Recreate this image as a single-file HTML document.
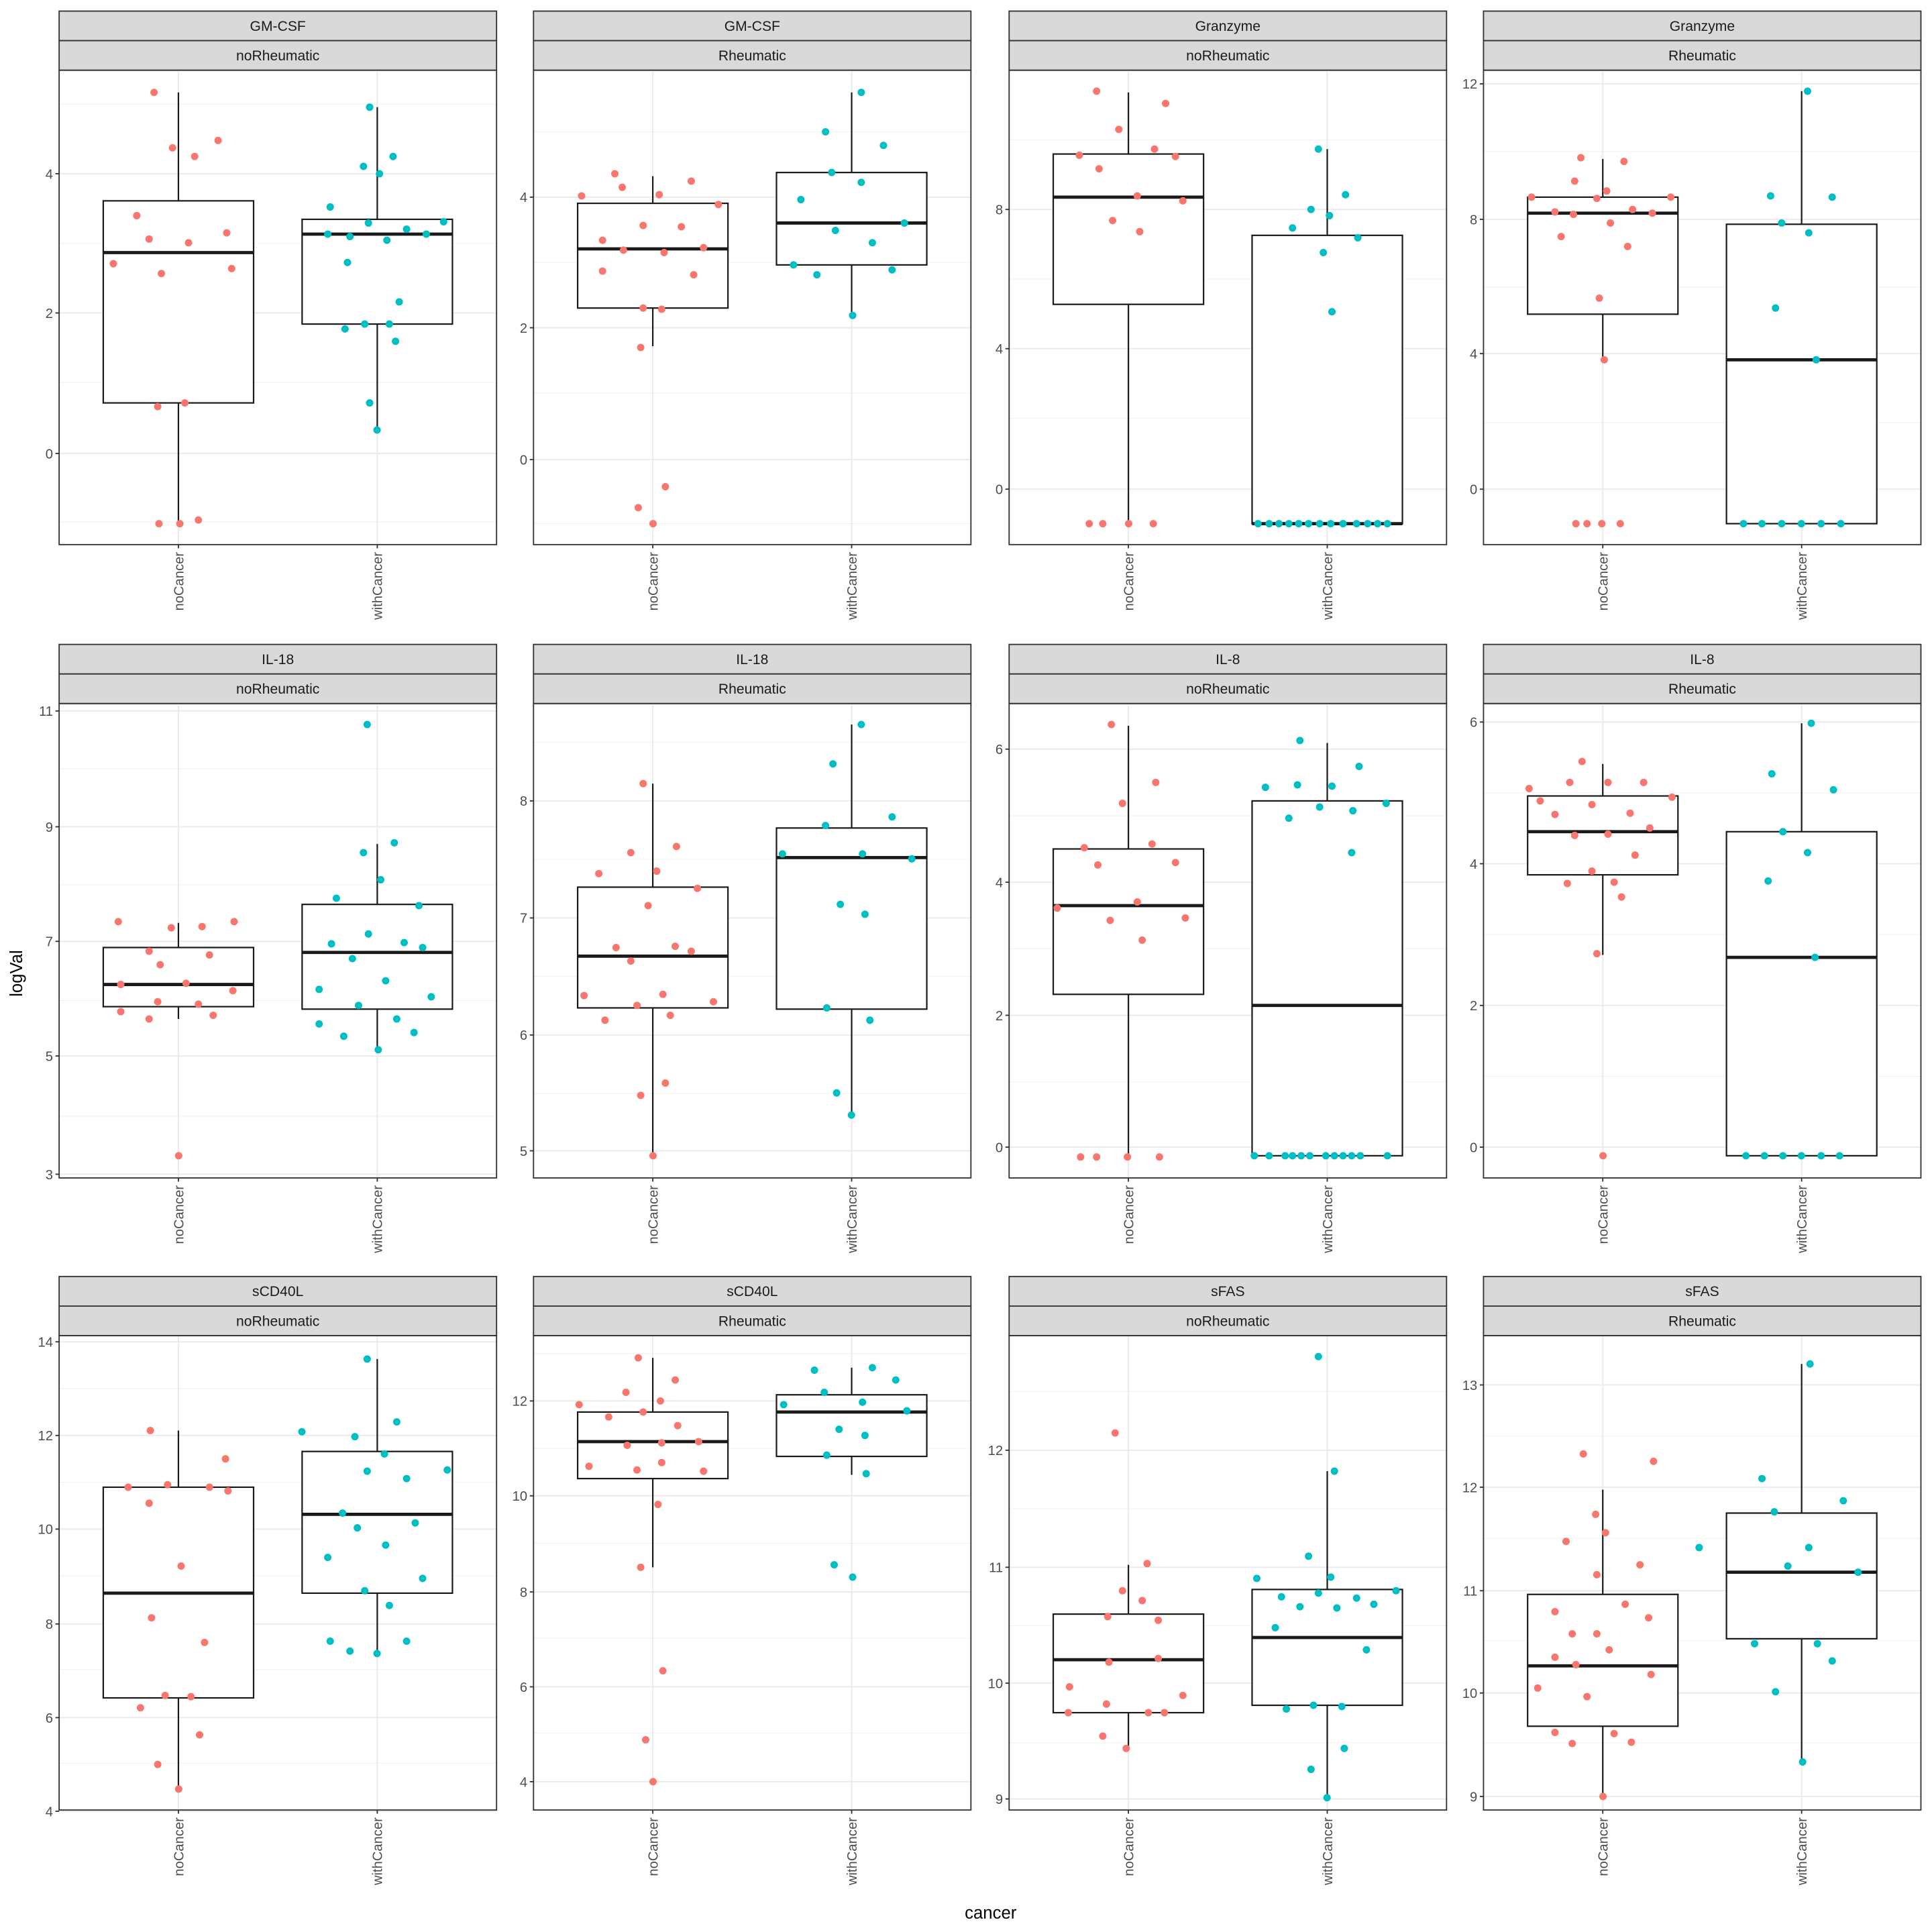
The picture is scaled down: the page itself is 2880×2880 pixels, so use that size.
<!DOCTYPE html>
<html><head><meta charset="utf-8"><style>
html,body{margin:0;padding:0;background:#fff}
svg{display:block}
text{font-family:"Liberation Sans",Arial,sans-serif}
</style></head><body>
<svg id="s" width="2880" height="2880" viewBox="0 0 1568 1568" xmlns="http://www.w3.org/2000/svg">
<rect width="1568" height="1568" fill="#fff"/>
<text x="18" y="790" font-size="14" text-anchor="middle" transform="rotate(-90 18 790)">logVal</text>
<text x="804" y="1557" font-size="14" text-anchor="middle">cancer</text>
</svg>
<script>
var X0=[48,433,819,1204],W=355,TOP=[57,571,1084],BOT=[442,956,1469];
var P=[
{c:0,r:0,t1:"GM-CSF",t2:"noRheumatic",ticks:[[4,141],[2,254],[0,368]],
b:[[205,163,327,75,425],[190,178,263,87,349]],
pn:[[125,75],[140,120],[158,127],[177,114],[111,175],[121,194],[153,197],[184,189],[92,214],[131,222],[188,218],[128,330],[150,327],[129,425],[146,425],[161,422]],
pw:[[300,87],[295,135],[319,127],[308,141],[268,168],[266,190],[284,192],[299,181],[314,195],[330,186],[346,190],[360,180],[282,213],[324,245],[296,263],[316,263],[280,267],[321,277],[300,327],[306,349]]},
{c:1,r:0,t1:"GM-CSF",t2:"Rheumatic",ticks:[[4,160],[2,266],[0,373]],
b:[[202,165,250,143,281],[181,140,215,75,256]],
pn:[[472,159],[499,141],[505,152],[535,158],[561,147],[583,166],[489,195],[522,183],[553,184],[506,203],[489,220],[539,205],[571,201],[563,223],[522,250],[537,251],[520,282],[540,395],[518,412],[530,425]],
pw:[[699,75],[670,107],[717,118],[675,140],[650,162],[699,148],[678,187],[708,197],[734,181],[644,215],[663,223],[724,219],[692,256]]},
{c:2,r:0,t1:"Granzyme",t2:"noRheumatic",ticks:[[8,170],[4,283],[0,397]],
b:[[160,125,247,75,425],[425,191,425,121,425]],
pn:[[890,74],[946,84],[908,105],[876,126],[937,121],[892,137],[954,127],[923,159],[960,163],[903,179],[925,188],[884,425],[895,425],[916,425],[936,425]],
pw:[[1070,121],[1092,158],[1064,170],[1049,185],[1079,175],[1102,193],[1074,205],[1081,253],[1021,425],[1030,425],[1038,425],[1046,425],[1054,425],[1062,425],[1071,425],[1080,425],[1090,425],[1101,425],[1110,425],[1118,425],[1126,425]]},
{c:3,r:0,t1:"Granzyme",t2:"Rheumatic",ticks:[[12,68],[8,178],[4,287],[0,397]],
b:[[173,160,255,129,292],[292,182,425,74,425]],
pn:[[1283,128],[1304,155],[1318,131],[1278,147],[1243,160],[1262,172],[1277,174],[1296,161],[1325,170],[1341,173],[1356,160],[1307,181],[1267,192],[1321,200],[1298,242],[1302,292],[1279,425],[1288,425],[1300,425],[1315,425]],
pw:[[1467,74],[1437,159],[1487,160],[1446,181],[1468,189],[1441,250],[1474,292],[1415,425],[1430,425],[1446,425],[1462,425],[1478,425],[1494,425]]},
{c:0,r:1,t1:"IL-18",t2:"noRheumatic",ticks:[[11,577],[9,671],[7,764],[5,857],[3,953]],
b:[[799,769,817,749,827],[773,734,819,685,853]],
pn:[[96,748],[139,753],[164,752],[190,748],[121,772],[170,775],[130,783],[98,799],[151,798],[189,804],[128,813],[161,815],[98,821],[121,827],[173,824],[145,938]],
pw:[[298,588],[320,684],[295,692],[309,714],[273,729],[340,735],[269,766],[299,758],[328,765],[286,778],[343,769],[313,796],[259,803],[350,809],[291,816],[322,827],[259,831],[279,841],[336,838],[307,852]]},
{c:1,r:1,t1:"IL-18",t2:"Rheumatic",ticks:[[8,650],[7,745],[6,840],[5,934]],
b:[[776,720,818,636,938],[696,672,819,588,905]],
pn:[[522,636],[549,687],[512,692],[486,709],[533,707],[566,721],[526,735],[548,768],[561,772],[500,769],[512,780],[474,808],[538,807],[579,813],[517,816],[544,824],[491,828],[540,879],[520,889],[530,938]],
pw:[[699,588],[676,620],[724,663],[670,670],[635,693],[700,693],[740,697],[682,734],[702,742],[671,818],[706,828],[679,887],[691,905]]},
{c:2,r:1,t1:"IL-8",t2:"noRheumatic",ticks:[[6,608],[4,716],[2,824],[0,931]],
b:[[735,689,807,589,938],[816,650,938,603,938]],
pn:[[902,588],[938,635],[911,652],[880,688],[935,685],[891,702],[954,700],[858,737],[923,732],[901,747],[962,745],[927,763],[877,939],[890,939],[915,939],[941,939]],
pw:[[1055,601],[1103,622],[1027,639],[1053,637],[1081,638],[1046,664],[1071,655],[1098,658],[1125,652],[1097,692],[1018,938],[1030,938],[1043,938],[1049,938],[1056,938],[1063,938],[1076,938],[1083,938],[1090,938],[1097,938],[1104,938],[1126,938]]},
{c:3,r:1,t1:"IL-8",t2:"Rheumatic",ticks:[[6,586],[4,701],[2,816],[0,931]],
b:[[675,646,710,620,775],[777,675,938,587,938]],
pn:[[1284,618],[1241,640],[1274,635],[1305,635],[1334,635],[1357,647],[1250,650],[1262,661],[1292,653],[1323,660],[1278,678],[1305,677],[1339,672],[1292,707],[1272,717],[1327,694],[1310,716],[1316,728],[1296,774],[1301,938]],
pw:[[1470,587],[1438,628],[1488,641],[1447,675],[1467,692],[1435,715],[1473,777],[1417,938],[1432,938],[1447,938],[1462,938],[1478,938],[1493,938]]},
{c:0,r:2,t1:"sCD40L",t2:"noRheumatic",ticks:[[14,1089],[12,1165],[10,1241],[8,1318],[6,1394],[4,1470]],
b:[[1293,1207,1378,1161,1452],[1229,1178,1293,1103,1341]],
pn:[[122,1161],[183,1184],[104,1207],[136,1205],[170,1207],[185,1210],[121,1220],[147,1271],[123,1313],[166,1333],[134,1376],[155,1377],[114,1386],[162,1408],[128,1432],[145,1452]],
pw:[[298,1103],[245,1162],[288,1166],[322,1154],[312,1180],[298,1194],[330,1200],[363,1193],[278,1228],[290,1240],[337,1236],[313,1254],[266,1264],[343,1281],[296,1291],[316,1303],[268,1332],[284,1340],[330,1332],[306,1342]]},
{c:1,r:2,t1:"sCD40L",t2:"Rheumatic",ticks:[[12,1137],[10,1214],[8,1292],[6,1369],[4,1446]],
b:[[1170,1146,1200,1102,1272],[1146,1132,1182,1110,1197]],
pn:[[518,1102],[548,1120],[470,1140],[508,1130],[536,1137],[494,1150],[522,1146],[550,1157],[509,1173],[567,1170],[537,1171],[478,1190],[517,1193],[537,1187],[571,1194],[534,1221],[520,1272],[538,1356],[524,1412],[530,1446]],
pw:[[661,1112],[708,1110],[727,1120],[669,1130],[700,1138],[636,1140],[736,1145],[681,1160],[702,1165],[671,1181],[703,1196],[677,1270],[692,1280]]},
{c:2,r:2,t1:"sFAS",t2:"noRheumatic",ticks:[[12,1177],[11,1272],[10,1366],[9,1460]],
b:[[1347,1310,1390,1270,1419],[1329,1290,1384,1194,1459]],
pn:[[905,1163],[931,1269],[911,1291],[927,1299],[899,1312],[940,1315],[900,1349],[940,1346],[868,1369],[898,1383],[932,1390],[945,1390],[960,1376],[867,1390],[895,1409],[914,1419]],
pw:[[1070,1101],[1083,1194],[1062,1263],[1020,1281],[1080,1280],[1040,1296],[1070,1293],[1101,1297],[1133,1291],[1055,1304],[1085,1305],[1115,1302],[1035,1321],[1109,1339],[1044,1387],[1066,1384],[1089,1385],[1091,1419],[1064,1436],[1077,1459]]},
{c:3,r:2,t1:"sFAS",t2:"Rheumatic",ticks:[[13,1124],[12,1207],[11,1291],[10,1374],[9,1458]],
b:[[1352,1294,1401,1209,1458],[1276,1228,1330,1107,1430]],
pn:[[1285,1180],[1342,1186],[1295,1229],[1271,1251],[1303,1244],[1331,1270],[1296,1278],[1319,1302],[1262,1308],[1338,1313],[1276,1326],[1296,1326],[1262,1345],[1306,1339],[1279,1351],[1248,1370],[1340,1359],[1288,1377],[1262,1406],[1310,1407],[1276,1415],[1324,1414],[1301,1458]],
pw:[[1469,1107],[1430,1200],[1496,1218],[1440,1227],[1379,1256],[1468,1256],[1451,1271],[1508,1276],[1424,1334],[1475,1334],[1487,1348],[1441,1373],[1463,1430]]}
];
var o="";
P.forEach(function(p){
 var x0=X0[p.c],t=TOP[p.r],bt=BOT[p.r],xn=x0+W*0.2727,xw=x0+W*0.7273;
 o+='<rect x="'+x0+'" y="'+(t-48)+'" width="'+W+'" height="24" fill="#D9D9D9" stroke="#333" stroke-width="1"/>';
 o+='<rect x="'+x0+'" y="'+(t-24)+'" width="'+W+'" height="24" fill="#D9D9D9" stroke="#333" stroke-width="1"/>';
 o+='<text x="'+(x0+W/2)+'" y="'+(t-32)+'" font-size="11.5" fill="#1a1a1a" text-anchor="middle">'+p.t1+'</text>';
 o+='<text x="'+(x0+W/2)+'" y="'+(t-8)+'" font-size="11.5" fill="#1a1a1a" text-anchor="middle">'+p.t2+'</text>';
 var tk=p.ticks,sp=tk[1][1]-tk[0][1];
 for(var y=tk[0][1]-sp*1.5;y<bt;y+=sp){ if(y>t&&y<bt) o+='<line x1="'+x0+'" x2="'+(x0+W)+'" y1="'+y+'" y2="'+y+'" stroke="#F2F2F2" stroke-width="0.6"/>'; }
 tk.forEach(function(k){
  o+='<line x1="'+x0+'" x2="'+(x0+W)+'" y1="'+k[1]+'" y2="'+k[1]+'" stroke="#EBEBEB" stroke-width="1.1"/>';
  o+='<line x1="'+(x0-3)+'" x2="'+x0+'" y1="'+k[1]+'" y2="'+k[1]+'" stroke="#333" stroke-width="1"/>';
  o+='<text x="'+(x0-5)+'" y="'+(k[1]+4)+'" font-size="11" fill="#4d4d4d" text-anchor="end">'+k[0]+'</text>';
 });
 [xn,xw].forEach(function(x,i){
  o+='<line x1="'+x+'" x2="'+x+'" y1="'+t+'" y2="'+bt+'" stroke="#EBEBEB" stroke-width="1.1"/>';
  o+='<line x1="'+x+'" x2="'+x+'" y1="'+bt+'" y2="'+(bt+3)+'" stroke="#333" stroke-width="1"/>';
  o+='<text x="'+(x+4)+'" y="'+(bt+6)+'" font-size="11" fill="#4d4d4d" text-anchor="end" transform="rotate(-90 '+(x+4)+' '+(bt+6)+')">'+(i?'withCancer':'noCancer')+'</text>';
 });
 [xn,xw].forEach(function(x,i){
  var b=p.b[i];
  o+='<line x1="'+x+'" x2="'+x+'" y1="'+b[3]+'" y2="'+b[1]+'" stroke="#1a1a1a" stroke-width="1.2"/>';
  o+='<line x1="'+x+'" x2="'+x+'" y1="'+b[2]+'" y2="'+b[4]+'" stroke="#1a1a1a" stroke-width="1.2"/>';
  o+='<rect x="'+(x-61)+'" y="'+b[1]+'" width="122" height="'+Math.max(0.5,b[2]-b[1])+'" fill="#fff" stroke="#1a1a1a" stroke-width="1.2"/>';
  o+='<line x1="'+(x-61)+'" x2="'+(x+61)+'" y1="'+b[0]+'" y2="'+b[0]+'" stroke="#1a1a1a" stroke-width="2.6"/>';
 });
 p.pn.forEach(function(q){o+='<circle cx="'+q[0]+'" cy="'+q[1]+'" r="3" fill="#F8766D"/>';});
 p.pw.forEach(function(q){o+='<circle cx="'+q[0]+'" cy="'+q[1]+'" r="3" fill="#00BFC4"/>';});
 o+='<rect x="'+x0+'" y="'+t+'" width="'+W+'" height="'+(bt-t)+'" fill="none" stroke="#333" stroke-width="1"/>';
});
document.getElementById('s').insertAdjacentHTML('beforeend',o);
</script>
</body></html>
